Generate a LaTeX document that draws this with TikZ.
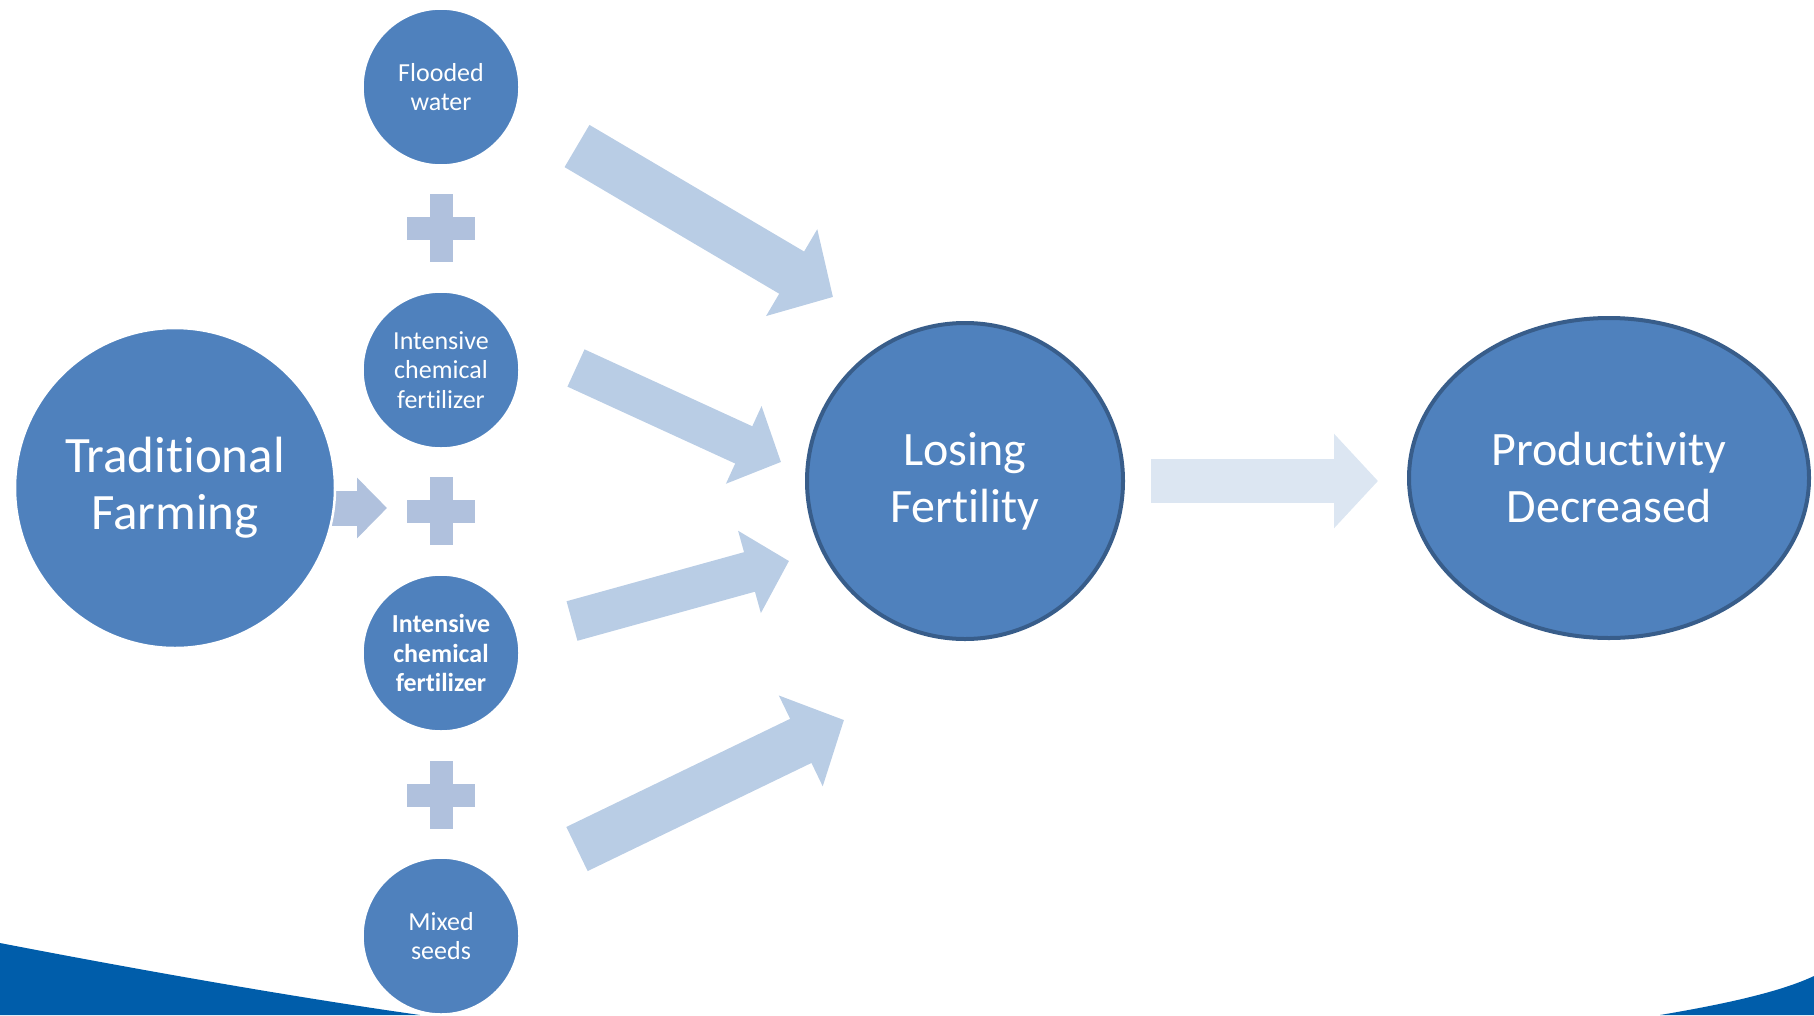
\documentclass[tikz,border=0pt]{standalone}
\usepackage{fontspec}
\setmainfont[Ligatures=NoCommon]{Carlito}
\usetikzlibrary{arrows.meta}
\usetikzlibrary{shapes.geometric}
\usetikzlibrary{calc}

\definecolor{bubblefill}{HTML}{4F81BD}
\definecolor{rimblue}{HTML}{385D8A}
\definecolor{flowblue}{HTML}{B9CDE5}
\definecolor{flowpale}{HTML}{DCE6F2}
\definecolor{plusblue}{RGB}{176,193,221}
\definecolor{swooshblue}{RGB}{0,93,170}

\tikzset{
  bubble/.style={circle, fill=bubblefill, draw=white, line width=2.5pt,
    text=white, align=center, inner sep=0pt},
  small bubble/.style={bubble, minimum size=157pt,
    font=\fontsize{26}{29.5}\selectfont},
  big bubble/.style={bubble, minimum size=320pt,
    font=\fontsize{48}{57}\selectfont},
  wide flow/.style={draw=flowblue, line width=49pt,
    -{Triangle[width=98pt,length=48pt]}},
  thin flow/.style={draw=flowblue, line width=41pt,
    -{Triangle[width=83pt,length=41pt]}},
}

\begin{document}
\begin{tikzpicture}[x=1pt,y=-1pt]
\useasboundingbox (0,0) rectangle (1814,1015);

%%%%%%%%%%%%%%%%%%%%%%%%%%%%%%%%%%%%%%%%%%%%%%%%%%%%%%%%%%%%%% swoosh
\fill[swooshblue] (0,943) .. controls (150,972) and (300,998) .. (420,1015)
  -- (0,1015) -- cycle;
\fill[swooshblue] (1660,1015) .. controls (1725,1004) and (1780,992) .. (1814,976)
  -- (1814,1015) -- cycle;

%%%%%%%%%%%%%%%%%%%%%%%%%%%%%%%%%%%%%%%%%%%%%%%%%%%%%%%%%%%%%% flows
\coordinate (aAs) at (577,146);
\coordinate (aAe) at (833,297);
\coordinate (aBs) at (576,368);
\coordinate (aBe) at (781,462);
\coordinate (aCs) at (572,621);
\coordinate (aCe) at (789,561);
\coordinate (aDs) at (577,849);
\coordinate (aDe) at (844,720);

\draw[wide flow] (aAs) -- (aAe);
\draw[thin flow] (aBs) -- (aBe);
\draw[thin flow] (aCs) -- (aCe);
\draw[wide flow] (aDs) -- (aDe);

\coordinate (tfs) at (320,508);
\coordinate (tfe) at (387,508);
\draw[draw=plusblue, line width=35pt, -{Triangle[width=59pt,length=30pt]}] (tfs) -- (tfe);

%%%%%%%%%%%%%%%%%%%%%%%%%%%%%%%%%%%%%%%%%%%%%%%%%%%%%%%%%%%%%% plus signs
\coordinate (plA) at (441,228);
\coordinate (plB) at (441,511);
\coordinate (plC) at (441,795);
\foreach \p in {plA,plB,plC}{
  \fill[plusblue] ($(\p)+(-34,-11.5)$) rectangle ($(\p)+(34,11.5)$);
  \fill[plusblue] ($(\p)+(-11.5,-34)$) rectangle ($(\p)+(11.5,34)$);
}

%%%%%%%%%%%%%%%%%%%%%%%%%%%%%%%%%%%%%%%%%%%%%%%%%%%%%%%%%%%%%% bubbles
\node[big bubble, font=\fontsize{51}{57}\selectfont] (tf) at (175,488)
  {Traditional\\Farming};

\node[small bubble] (fw) at (441,87) {Flooded\\water};
\node[small bubble] (icf) at (441,370) {Intensive\\chemical\\fertilizer};
\node[small bubble, font=\fontsize{26}{29.5}\selectfont\bfseries] (icfb) at (441,653)
  {Intensive\\chemical\\fertilizer};
\node[small bubble] (ms) at (441,936) {Mixed\\seeds};

\node[big bubble, draw=rimblue, line width=4pt, minimum size=316pt] (lf) at (965,481)
  {Losing\\Fertility};
\node[big bubble, ellipse, draw=rimblue, line width=4pt, minimum width=400pt,
  minimum height=320pt] (pd) at (1609,478) {Productivity\\Decreased};

%%%%%%%%%%%%%%%%%%%%%%%%%%%%%%%%%%%%%%%%%%%%%%%%%%%%%%%%%%%%%% result arrow
\draw[draw=flowpale, line width=44pt, -{Triangle[width=92pt,length=44pt]},
  shorten <=26pt, shorten >=29pt] (lf.east) -- (lf.east -| pd.west);

\end{tikzpicture}
\end{document}
